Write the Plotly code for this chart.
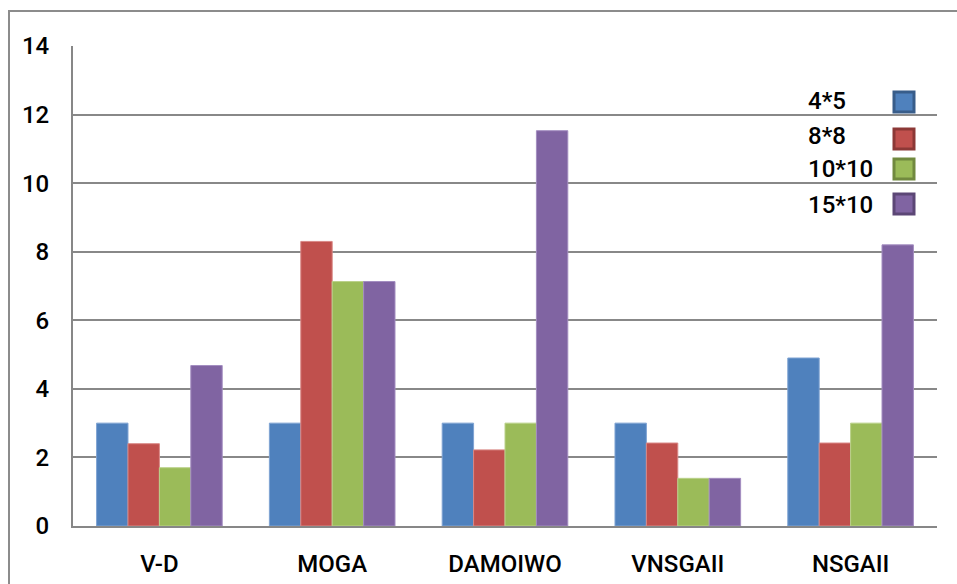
import plotly.graph_objects as go

categories = ["V-D", "MOGA", "DAMOIWO", "VNSGAII", "NSGAII"]
series_names = ["4*5", "8*8", "10*10", "15*10"]
s_4x5 = [3.0, 3.0, 3.0, 3.0, 4.9]
s_8x8 = [2.4, 8.3, 2.22, 2.42, 2.42]
s_10x10 = [1.7, 7.13, 3.0, 1.39, 3.0]
s_15x10 = [4.68, 7.13, 11.53, 1.39, 8.2]
y_ticks = [0, 2, 4, 6, 8, 10, 12, 14]

series_values = [s_4x5, s_8x8, s_10x10, s_15x10]
fills = ["#4F81BD", "#C0504D", "#9BBB59", "#8064A2"]
edges = ["#385D8A", "#8C3836", "#71893F", "#5C4776"]
lights = ["#7FA3D3", "#D98886", "#BAD18A", "#A38DC0"]

W, H = 957, 584
L, R, T, B = 73, 937, 46, 526

def px(x):
    return (x - L) / (R - L)

def py(y):
    return (B - y) / (B - T)

FONT = "Roboto"
FS = 24
FW = 500

fig = go.Figure()
for name, vals, c, lc in zip(series_names, series_values, fills, lights):
    fig.add_trace(go.Bar(x=categories, y=vals, name=name,
                         marker=dict(color=c, line=dict(color=lc, width=1))))

shapes = []
# outer chart border
shapes.append(dict(type="rect", xref="paper", yref="paper",
                   x0=px(9), x1=px(970), y0=py(11), y1=py(600),
                   line=dict(color="#8c8c8c", width=2), fillcolor="rgba(0,0,0,0)", layer="below"))
annotations = []
leg_text_y = [101, 136, 169, 205]
leg_sq_y = [102, 139, 169, 204]
for name, c, e, ty, sy in zip(series_names, fills, edges, leg_text_y, leg_sq_y):
    annotations.append(dict(x=px(806), y=py(ty), xref="paper", yref="paper",
                            text=name, showarrow=False, xanchor="left", yanchor="middle",
                            font=dict(family=FONT, size=FS, color="#000000", weight=FW)))
    shapes.append(dict(type="rect", xref="paper", yref="paper",
                       x0=px(894), x1=px(914), y0=py(sy + 10), y1=py(sy - 10),
                       line=dict(color=e, width=3), fillcolor=c, layer="above"))

fig.update_layout(
    width=W, height=H,
    margin=dict(l=L, r=W - R, t=T, b=H - B, pad=0, autoexpand=False),
    paper_bgcolor="white", plot_bgcolor="white",
    barmode="group", bargap=0.273, bargroupgap=0,
    showlegend=False,
    font=dict(family=FONT, size=FS, color="#000000", weight=FW),
    shapes=shapes, annotations=annotations,
    xaxis=dict(showgrid=False, showline=True, linecolor="#878787", linewidth=2,
               ticks="", ticklabelstandoff=15,
               tickfont=dict(family=FONT, size=FS, weight=FW, color="#000000"),
               automargin=False),
    yaxis=dict(range=[0, 14], tickvals=y_ticks, showgrid=True, gridcolor="#888888",
               gridwidth=1.6, showline=True, linecolor="#878787", linewidth=2,
               ticks="", ticklabelstandoff=17, zeroline=False,
               tickfont=dict(family=FONT, size=FS, weight=FW, color="#000000"),
               automargin=False),
)

fig.write_html("out.html")
